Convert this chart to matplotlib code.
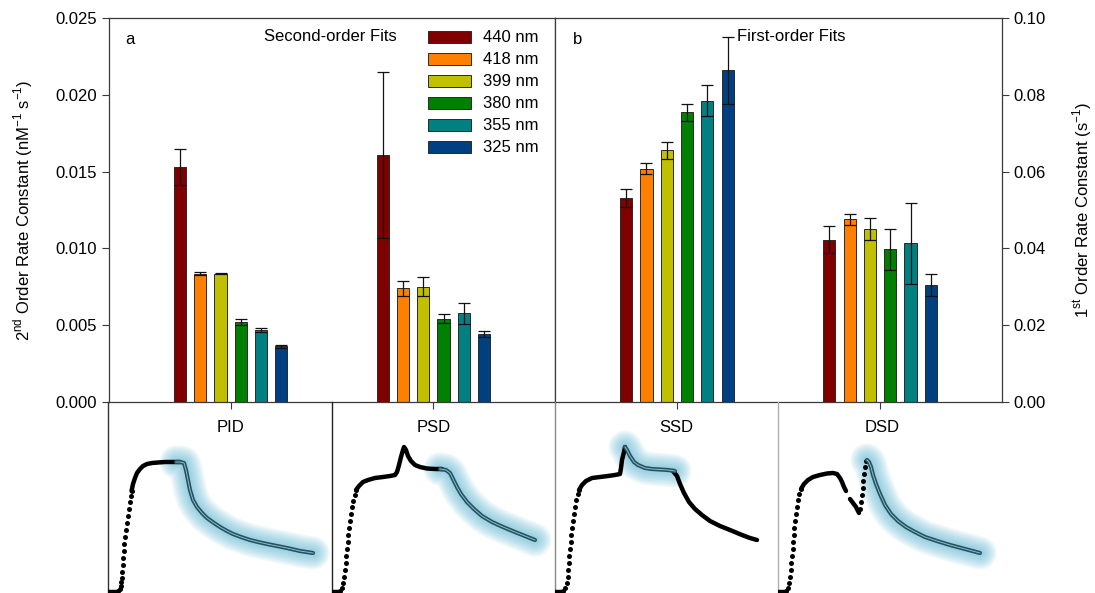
import matplotlib
matplotlib.use("Agg")
import matplotlib.pyplot as plt
import numpy as np
from matplotlib.patches import Patch

plt.rcParams['font.family'] = ['Liberation Sans', 'DejaVu Sans']

# ---------------- data ----------------
wavelengths = ['440 nm', '418 nm', '399 nm', '380 nm', '355 nm', '325 nm']
colors = ['#800000', '#FF8000', '#C0C000', '#008000', '#008080', '#004080']

second_groups = ['PID', 'PSD']
second_vals = [[0.0153, 0.00836, 0.00836, 0.0052, 0.00467, 0.00362],
               [0.01606, 0.0074, 0.00751, 0.00543, 0.00577, 0.0044]]
second_err = [[0.00115, 0.0001, 0.00005, 0.0002, 0.00012, 0.00008],
              [0.0054, 0.0005, 0.0006, 0.0003, 0.00067, 0.0002]]

first_groups = ['SSD', 'DSD']
first_vals = [[0.0532, 0.0608, 0.0655, 0.0754, 0.0785, 0.0864],
              [0.0423, 0.0476, 0.0451, 0.0398, 0.0413, 0.0305]]
first_err = [[0.0023, 0.0014, 0.0023, 0.0021, 0.004, 0.0087],
             [0.0035, 0.0014, 0.0029, 0.0053, 0.0106, 0.0028]]

left_ticks = [0.000, 0.005, 0.010, 0.015, 0.020, 0.025]
right_ticks = [0.00, 0.02, 0.04, 0.06, 0.08, 0.10]

# kinetic traces (time, signal) in arbitrary units
PID_base_t = [0, 10]; PID_base_s = [1, 1]
PID_rise_t = [10, 11.5, 12.5, 13, 13.5, 14, 14.5, 15, 15.5, 16, 17, 17.5, 18.5, 19.5, 20.5, 21.5, 22.5, 23.5]
PID_rise_s = [2, 4, 7, 11, 15, 21, 28, 35, 42, 49, 56, 63, 70, 77, 84, 91, 97, 102]
PID_trace_t = [23.5, 25, 27, 29, 32, 35, 39, 44, 50, 57, 64, 72]
PID_trace_s = [102, 109, 115, 120, 124, 127, 129, 130, 130.5, 131, 131, 131]
PID_fit_t = [68, 72, 76, 78, 80, 82, 85, 89, 94, 99, 106, 112, 119, 125, 133, 142, 150, 159, 169, 179, 192, 205]
PID_fit_s = [131, 131, 130, 123, 113, 103, 93, 86, 80, 75, 70, 66, 62, 59, 56, 53, 51, 49, 47, 45, 42, 40]

PSD_base_t = [0, 8]; PSD_base_s = [1, 1]
PSD_rise_t = [8, 10, 11, 12, 13, 13.5, 14, 15, 15.5, 16, 17, 18, 19, 20, 21, 22.5, 24]
PSD_rise_s = [2, 5, 10, 16, 23, 30, 37, 44, 51, 58, 65, 72, 79, 86, 92, 98, 103]
PSD_trace_t = [24, 27, 31, 36, 43, 51, 58, 63, 65, 67, 69, 71, 72, 74, 76, 79, 83, 88, 95, 103, 110]
PSD_trace_s = [103, 107, 111, 113, 115, 116, 117, 118, 121, 128, 136, 143, 146, 143, 137, 132, 128, 126, 124.5, 124, 124]
PSD_fit_t = [108, 114, 118, 121, 125, 129, 135, 142, 150, 160, 171, 183, 193, 203]
PSD_fit_s = [124, 123, 120, 114, 106, 99, 91, 84, 77, 71, 66, 61, 57, 53]

SSD_base_t = [0, 8]; SSD_base_s = [1, 1]
SSD_rise_t = [8, 10, 11.5, 12.5, 13, 13.5, 14, 15, 15.5, 16, 17, 17.5, 18.5, 19.5, 21, 22.5, 24]
SSD_rise_s = [2, 5, 10, 16, 23, 30, 37, 44, 51, 58, 65, 72, 79, 86, 93, 99, 103]
SSD_trace_t = [24, 27, 31, 37, 45, 53, 60, 65, 66, 67, 69, 70]
SSD_trace_s = [103, 108, 112, 115, 116, 117, 118, 119, 125, 133, 141, 146]
SSD_fit_t = [70, 72, 75, 79, 83, 90, 97, 105, 113, 120]
SSD_fit_s = [146, 143, 137, 131, 128, 125, 124, 123.5, 123, 122]
SSD_tail_t = [118, 122, 125, 129, 134, 140, 147, 155, 165, 175, 187, 195, 202]
SSD_tail_s = [122, 117, 109, 100, 91, 84, 78, 72, 67, 63, 58, 55, 53]

DSD_base_t = [0, 8]; DSD_base_s = [1, 1]
DSD_rise_t = [8, 10, 11, 12, 12.5, 13, 14, 14.5, 15, 15.5, 16, 17, 17.5, 18.5, 19.5, 21, 23]
DSD_rise_s = [2, 5, 10, 16, 23, 30, 37, 44, 51, 58, 65, 72, 79, 86, 93, 99, 104]
DSD_trace_t = [23, 26, 30, 35, 42, 49, 55, 59, 62, 64, 66, 68]
DSD_trace_s = [104, 109, 113, 116, 118, 119.5, 120, 119, 115, 111, 106, 102]
DSD_dip_t = [72, 75, 78, 81]
DSD_dip_s = [94, 90, 86, 80]
DSD_rise2_t = [82, 83, 84, 84.5, 85, 86, 87, 88]
DSD_rise2_s = [84, 91, 98, 105, 112, 119, 126, 132]
DSD_fit_t = [89, 91, 93, 95, 98, 102, 107, 113, 120, 128, 137, 147, 159, 172, 187, 202]
DSD_fit_s = [133, 131, 126, 118, 109, 99, 88, 79, 72, 66, 61, 56, 52, 48, 44, 40]

# ---------------- figure ----------------
W, H = 1095, 593
fig = plt.figure(figsize=(W / 100, H / 100), dpi=100)

def rect(x0, y0, x1, y1):
    return [x0 / W, (H - y1) / H, (x1 - x0) / W, (y1 - y0) / H]

FS = 12
spine_c = '#3a3a3a'

def bar_panel(ax, vals, errs, ylim, ticks, fmt):
    width = 0.06
    pitch = 0.1
    for gi, (gv, ge) in enumerate(zip(vals, errs)):
        for i in range(len(gv)):
            x = gi + (i - 2.5) * pitch
            ax.bar(x, gv[i], width=width, color=colors[i], edgecolor='#2a2a2a', linewidth=0.7, zorder=2)
            ax.errorbar(x, gv[i], yerr=ge[i], fmt='none', ecolor='#111111', elinewidth=0.9,
                        capsize=4.3, capthick=0.9, zorder=3)
    ax.set_xlim(-0.6, 1.6)
    ax.set_ylim(*ylim)
    ax.set_yticks(ticks)
    ax.set_yticklabels([fmt % t for t in ticks], fontsize=FS)
    ax.set_xticks([0, 1])
    ax.set_xticklabels([])
    ax.tick_params(axis='both', direction='out', length=5, width=0.8, color=spine_c)
    for s in ax.spines.values():
        s.set_color(spine_c)
        s.set_linewidth(0.9)

axL = fig.add_axes(rect(109, 18, 555, 402))
bar_panel(axL, second_vals, second_err, (0, 0.025), left_ticks, '%.3f')
axL.set_ylabel('2$^{\\mathregular{nd}}$ Order Rate Constant (nM$^{\\mathregular{-1}}$ s$^{\\mathregular{-1}}$)', fontsize=FS)
axL.yaxis.set_label_coords(-0.166, 0.5)
axL.text(0.036, 0.943, 'a', transform=axL.transAxes, fontsize=FS, va='center', ha='left')
axL.text(0.348, 0.951, 'Second-order Fits', transform=axL.transAxes, fontsize=FS, va='center', ha='left')
handles = [Patch(facecolor=c, edgecolor='#2a2a2a', linewidth=0.7) for c in colors]
axL.legend(handles, wavelengths, loc='upper left', bbox_to_anchor=(0.7, 0.985), frameon=False,
           fontsize=FS, handlelength=2.6, handleheight=0.75, labelspacing=0.42, handletextpad=0.7,
           borderaxespad=0)

axR = fig.add_axes(rect(555, 18, 1002, 402))
bar_panel(axR, first_vals, first_err, (0, 0.10), right_ticks, '%.2f')
axR.yaxis.tick_right()
axR.yaxis.set_label_position('right')
axR.set_ylabel('1$^{\\mathregular{st}}$ Order Rate Constant (s$^{\\mathregular{-1}}$)', fontsize=FS, rotation=90)
axR.yaxis.set_label_coords(1.154, 0.5)
axR.text(0.040, 0.943, 'b', transform=axR.transAxes, fontsize=FS, va='center', ha='left')
axR.text(0.408, 0.951, 'First-order Fits', transform=axR.transAxes, fontsize=FS, va='center', ha='left')

# ---------------- insets ----------------
panel_x = [108, 332, 555, 778, 1002]
names = ['PID', 'PSD', 'SSD', 'DSD']
title_x = [122, 102, 121, 104]
left_spine_colors = ['#333333', '#222222', '#888888', '#b0b0b0']

def glow(ax, t, s):
    for w in np.linspace(24, 4, 10):
        ax.plot(t, s, color='#5fb6d3', alpha=0.09, lw=w, solid_capstyle='round',
                solid_joinstyle='round', zorder=1)
    ax.plot(t, s, color='#2c4f5a', lw=3.0, solid_capstyle='round', zorder=4)
    ax.plot(t, s, color='#7cc3da', lw=0.7, zorder=5)

def dots(ax, t, s):
    ax.plot(t, s, 'o', color='black', markersize=3.6, markeredgewidth=0, zorder=3)

def line(ax, t, s):
    ax.plot(t, s, color='black', lw=3.2, solid_capstyle='round', solid_joinstyle='round', zorder=3)

axes_in = []
for k in range(4):
    a = fig.add_axes(rect(panel_x[k], 402, panel_x[k + 1], 593))
    a.set_xlim(0, panel_x[k + 1] - panel_x[k])
    a.set_ylim(0, 191)
    a.set_xticks([]); a.set_yticks([])
    for sname in ['top', 'right', 'bottom']:
        a.spines[sname].set_visible(False)
    a.spines['left'].set_color(left_spine_colors[k])
    a.spines['left'].set_linewidth(1.0)
    a.patch.set_alpha(0)
    a.text(title_x[k], 166, names[k], fontsize=FS, ha='center', va='center')
    axes_in.append(a)

a = axes_in[0]
line(a, PID_base_t, PID_base_s); dots(a, PID_rise_t, PID_rise_s); line(a, PID_trace_t, PID_trace_s)
glow(a, PID_fit_t, PID_fit_s)

a = axes_in[1]
line(a, PSD_base_t, PSD_base_s); dots(a, PSD_rise_t, PSD_rise_s); line(a, PSD_trace_t, PSD_trace_s)
glow(a, PSD_fit_t, PSD_fit_s)

a = axes_in[2]
line(a, SSD_base_t, SSD_base_s); dots(a, SSD_rise_t, SSD_rise_s); line(a, SSD_trace_t, SSD_trace_s)
line(a, SSD_tail_t, SSD_tail_s)
glow(a, SSD_fit_t, SSD_fit_s)

a = axes_in[3]
line(a, DSD_base_t, DSD_base_s); dots(a, DSD_rise_t, DSD_rise_s); line(a, DSD_trace_t, DSD_trace_s)
line(a, DSD_dip_t, DSD_dip_s); dots(a, DSD_rise2_t, DSD_rise2_s)
glow(a, DSD_fit_t, DSD_fit_s)

fig.savefig('out.png', dpi=100, facecolor='white')
